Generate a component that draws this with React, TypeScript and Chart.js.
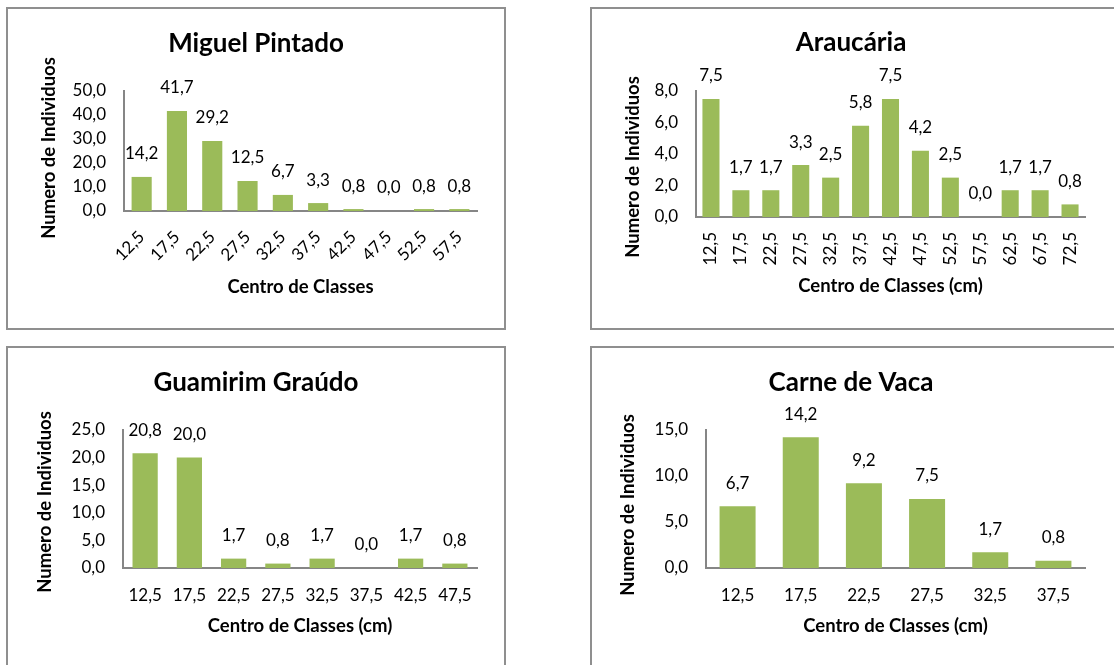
import React, { useEffect, useRef } from 'react';
import { Chart, registerables } from 'chart.js';

Chart.register(...registerables);

const FONT = 'Lato, "Open Sans", sans-serif';
const BAR_COLOR = '#9BBB59';
const AXIS_COLOR = '#868686';
const TEXT_COLOR = '#000000';

// Miguel Pintado
const miguelClasses = ['12,5', '17,5', '22,5', '27,5', '32,5', '37,5', '42,5', '47,5', '52,5', '57,5'];
const miguelValues = [14.2, 41.7, 29.2, 12.5, 6.7, 3.3, 0.8, 0.0, 0.8, 0.8];

// Araucária
const araucariaClasses = ['12,5', '17,5', '22,5', '27,5', '32,5', '37,5', '42,5', '47,5', '52,5', '57,5', '62,5', '67,5', '72,5'];
const araucariaValues = [7.5, 1.7, 1.7, 3.3, 2.5, 5.8, 7.5, 4.2, 2.5, 0.0, 1.7, 1.7, 0.8];

// Guamirim Graúdo
const guamirimClasses = ['12,5', '17,5', '22,5', '27,5', '32,5', '37,5', '42,5', '47,5'];
const guamirimValues = [20.8, 20.0, 1.7, 0.8, 1.7, 0.0, 1.7, 0.8];

// Carne de Vaca
const carneClasses = ['12,5', '17,5', '22,5', '27,5', '32,5', '37,5'];
const carneValues = [6.7, 14.2, 9.2, 7.5, 1.7, 0.8];

// y-axis ranges: [max, step]
const miguelAxis = [50, 10];
const araucariaAxis = [8, 2];
const guamirimAxis = [25, 5];
const carneAxis = [15, 5];

const fmt = (v: number) => Number(v).toFixed(1).replace('.', ',');

const TITLE_SIZE = 26;
const AXIS_TITLE_SIZE = 18.5;
const TICK_SIZE = 17;

// value labels drawn above each bar
const valueLabels = {
  id: 'valueLabels',
  afterDatasetsDraw(chart: any, _args: any, opts: any) {
    const { ctx } = chart;
    const meta = chart.getDatasetMeta(0);
    const data = chart.data.datasets[0].data as number[];
    ctx.save();
    ctx.font = `${TICK_SIZE}px ${FONT}`;
    ctx.fillStyle = TEXT_COLOR;
    ctx.textAlign = 'center';
    ctx.textBaseline = 'middle';
    meta.data.forEach((bar: any, i: number) => {
      ctx.fillText(fmt(data[i]), bar.x, bar.y - opts.offset);
    });
    ctx.restore();
  },
};

// rotated title for the value axis
const yAxisTitle = {
  id: 'yAxisTitle',
  afterDraw(chart: any, _args: any, opts: any) {
    const { ctx } = chart;
    ctx.save();
    ctx.translate(opts.x, opts.y);
    ctx.rotate(-Math.PI / 2);
    ctx.font = `bold ${AXIS_TITLE_SIZE}px ${FONT}`;
    ctx.fillStyle = TEXT_COLOR;
    ctx.textAlign = 'center';
    ctx.textBaseline = 'middle';
    ctx.fillText(opts.text, 0, 0);
    ctx.restore();
  },
};

type Panel = {
  title: string;
  xTitle: string;
  labels: string[];
  values: number[];
  axis: number[];
  canvas: { x: number; y: number; w: number; h: number };
  area: { l: number; r: number; t: number; b: number };
  titleX: number;
  titleY: number;
  yTitle: { x: number; y: number };
  xTitleY: number;
  rotation: number;
  xPad: number;
};

const panels: Panel[] = [
  {
    title: 'Miguel Pintado',
    xTitle: 'Centro de Classes',
    labels: miguelClasses,
    values: miguelValues,
    axis: miguelAxis,
    canvas: { x: 8, y: 9, w: 496, h: 319 },
    area: { l: 124, r: 477, t: 91, b: 211 },
    titleX: 256,
    titleY: 44,
    yTitle: { x: 49, y: 148 },
    xTitleY: 287,
    rotation: 45,
    xPad: 16,
  },
  {
    title: 'Araucária',
    xTitle: 'Centro de Classes (cm)',
    labels: araucariaClasses,
    values: araucariaValues,
    axis: araucariaAxis,
    canvas: { x: 592, y: 9, w: 522, h: 319 },
    area: { l: 696, r: 1085, t: 91, b: 217 },
    titleX: 851,
    titleY: 43,
    yTitle: { x: 633, y: 167 },
    xTitleY: 286,
    rotation: 90,
    xPad: 15,
  },
  {
    title: 'Guamirim Graúdo',
    xTitle: 'Centro de Classes (cm)',
    labels: guamirimClasses,
    values: guamirimValues,
    axis: guamirimAxis,
    canvas: { x: 8, y: 348, w: 496, h: 317 },
    area: { l: 123, r: 477, t: 430, b: 568 },
    titleX: 256,
    titleY: 383,
    yTitle: { x: 45, y: 502 },
    xTitleY: 626,
    rotation: 0,
    xPad: 17,
  },
  {
    title: 'Carne de Vaca',
    xTitle: 'Centro de Classes (cm)',
    labels: carneClasses,
    values: carneValues,
    axis: carneAxis,
    canvas: { x: 592, y: 348, w: 522, h: 317 },
    area: { l: 706, r: 1085, t: 430, b: 568 },
    titleX: 851,
    titleY: 383,
    yTitle: { x: 628, y: 505 },
    xTitleY: 626,
    rotation: 0,
    xPad: 17,
  },
];

const frames = [
  { left: 6, top: 7, width: 500, height: 323 },
  { left: 590, top: 7, width: 540, height: 323 },
  { left: 6, top: 346, width: 500, height: 340 },
  { left: 590, top: 346, width: 540, height: 340 },
];

function BarPanel({ p }: { p: Panel }) {
  const ref = useRef<HTMLCanvasElement>(null);

  useEffect(() => {
    const c = p.canvas;
    const titleLH = TITLE_SIZE * 1.2;
    const axisLH = AXIS_TITLE_SIZE * 1.2;
    const padTop = p.titleY - c.y - titleLH / 2;
    const padBottom = p.area.t - c.y - padTop - titleLH;
    const xHeight = p.xTitleY + axisLH / 2 - p.area.b;
    const layoutBottom = c.y + c.h - (p.area.b + xHeight);
    const layoutRight = c.x + c.w - p.area.r;
    // the chart title is centred between the left padding and the plot's right edge
    const layoutLeft = 2 * p.titleX - p.area.r - c.x;
    const yWidth = p.area.l - c.x - layoutLeft;

    const chart = new Chart(ref.current as HTMLCanvasElement, {
      type: 'bar',
      data: {
        labels: p.labels,
        datasets: [
          {
            data: p.values,
            backgroundColor: BAR_COLOR,
            borderWidth: 0,
            barPercentage: 0.57,
            categoryPercentage: 1,
          },
        ],
      },
      plugins: [valueLabels, yAxisTitle],
      options: {
        responsive: false,
        animation: false,
        events: [],
        layout: { padding: { left: layoutLeft, top: 0, right: layoutRight, bottom: layoutBottom } },
        plugins: {
          legend: { display: false },
          tooltip: { enabled: false },
          title: {
            display: true,
            text: p.title,
            color: TEXT_COLOR,
            font: { family: FONT, size: TITLE_SIZE, weight: 'bold', lineHeight: 1.2 },
            padding: { top: padTop, bottom: padBottom },
          },
          valueLabels: { offset: 23 },
          yAxisTitle: { text: 'Numero de Individuos', x: p.yTitle.x - c.x, y: p.yTitle.y - c.y },
        } as any,
        scales: {
          x: {
            grid: { display: false, drawTicks: false },
            border: { display: true, color: AXIS_COLOR, width: 2 },
            ticks: {
              autoSkip: false,
              minRotation: p.rotation,
              maxRotation: p.rotation,
              padding: p.xPad,
              color: TEXT_COLOR,
              font: { family: FONT, size: TICK_SIZE, lineHeight: 1.2 },
            },
            title: {
              display: true,
              text: p.xTitle,
              color: TEXT_COLOR,
              font: { family: FONT, size: AXIS_TITLE_SIZE, weight: 'bold', lineHeight: 1.2 },
              padding: 0,
            },
            afterFit(scale: any) {
              scale.height = xHeight;
            },
          },
          y: {
            min: 0,
            max: p.axis[0],
            grid: { display: false, drawTicks: false },
            border: { display: true, color: AXIS_COLOR, width: 2 },
            ticks: {
              stepSize: p.axis[1],
              padding: 18,
              color: TEXT_COLOR,
              font: { family: FONT, size: TICK_SIZE, lineHeight: 1.2 },
              callback: (v: any) => fmt(Number(v)),
            },
            afterFit(scale: any) {
              scale.width = yWidth;
            },
          },
        },
      },
    });
    return () => chart.destroy();
  }, [p]);

  return (
    <canvas
      ref={ref}
      width={p.canvas.w}
      height={p.canvas.h}
      style={{
        position: 'absolute',
        left: p.canvas.x,
        top: p.canvas.y,
        width: p.canvas.w,
        height: p.canvas.h,
      }}
    />
  );
}

export default function App() {
  return (
    <div
      style={{
        position: 'fixed',
        left: 0,
        top: 0,
        width: 1114,
        height: 665,
        overflow: 'hidden',
        background: '#ffffff',
      }}
    >
      {frames.map((f, i) => (
        <div
          key={'frame' + i}
          style={{
            position: 'absolute',
            left: f.left,
            top: f.top,
            width: f.width,
            height: f.height,
            boxSizing: 'border-box',
            border: '2px solid #8f8f8f',
          }}
        />
      ))}
      {panels.map((p) => (
        <BarPanel key={p.title} p={p} />
      ))}
    </div>
  );
}
